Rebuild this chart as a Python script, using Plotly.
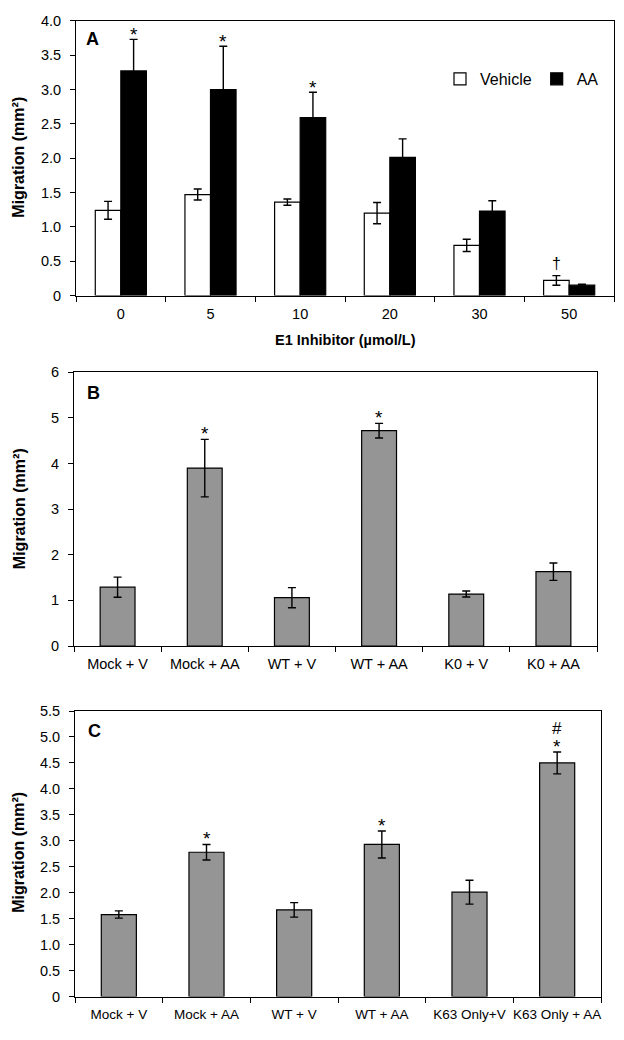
import plotly.graph_objects as go

# ---------------- Data ----------------
# Panel A
a_categories = ["0", "5", "10", "20", "30", "50"]
a_vehicle = [1.24, 1.47, 1.36, 1.20, 0.73, 0.22]
a_vehicle_err = [0.13, 0.08, 0.045, 0.155, 0.09, 0.07]
a_aa = [3.27, 3.00, 2.59, 2.01, 1.23, 0.15]
a_aa_err = [0.46, 0.63, 0.37, 0.27, 0.15, 0.015]
a_vehicle_marks = ["", "", "", "", "", "†"]
a_aa_marks = ["*", "*", "*", "", "", ""]
a_yticks = [0, 0.5, 1.0, 1.5, 2.0, 2.5, 3.0, 3.5, 4.0]
a_yticklabels = ["0", "0.5", "1.0", "1.5", "2.0", "2.5", "3.0", "3.5", "4.0"]

# Panel B
b_categories = ["Mock + V", "Mock + AA", "WT + V", "WT + AA", "K0 + V", "K0 + AA"]
b_values = [1.29, 3.90, 1.06, 4.72, 1.14, 1.63]
b_err = [0.22, 0.63, 0.22, 0.16, 0.065, 0.19]
b_marks = ["", "*", "", "*", "", ""]
b_yticks = [0, 1, 2, 3, 4, 5, 6]
b_yticklabels = ["0", "1", "2", "3", "4", "5", "6"]

# Panel C
c_categories = ["Mock + V", "Mock + AA", "WT + V", "WT + AA", "K63 Only+V", "K63 Only + AA"]
c_values = [1.58, 2.78, 1.67, 2.93, 2.01, 4.50]
c_err = [0.07, 0.15, 0.14, 0.26, 0.23, 0.21]
c_marks = ["", "*", "", "*", "", "*"]
c_marks_hash = ["", "", "", "", "", "#"]
c_yticks = [0, 0.5, 1.0, 1.5, 2.0, 2.5, 3.0, 3.5, 4.0, 4.5, 5.0, 5.5]
c_yticklabels = ["0", "0.5", "1.0", "1.5", "2.0", "2.5", "3.0", "3.5", "4.0", "4.5", "5.0", "5.5"]

# ---------------- Styling ----------------
FONT = "Liberation Sans, Arial, sans-serif"
W, H = 624, 1040
GRAY = "#959595"
TICKSIZE = 14.5

def px_x(p):
    return p / W

def px_y(p):
    return (H - p) / H

fig = go.Figure()

err_style = dict(type="data", color="black", thickness=1.4, width=4, visible=True)

fig.add_trace(go.Bar(
    x=a_categories, y=a_vehicle, name="Vehicle",
    marker=dict(color="white", line=dict(color="black", width=1.2)),
    error_y=dict(array=a_vehicle_err, **err_style),
    xaxis="x", yaxis="y", offsetgroup="veh", showlegend=True,
))
fig.add_trace(go.Bar(
    x=a_categories, y=a_aa, name="AA",
    marker=dict(color="black", line=dict(color="black", width=1.2)),
    error_y=dict(array=a_aa_err, **err_style),
    xaxis="x", yaxis="y", offsetgroup="aa", showlegend=True,
))
fig.add_trace(go.Bar(
    x=b_categories, y=b_values, width=0.4,
    marker=dict(color=GRAY, line=dict(color="black", width=1.2)),
    error_y=dict(array=b_err, **err_style),
    xaxis="x2", yaxis="y2", showlegend=False,
))
fig.add_trace(go.Bar(
    x=c_categories, y=c_values, width=0.4,
    marker=dict(color=GRAY, line=dict(color="black", width=1.2)),
    error_y=dict(array=c_err, **err_style),
    xaxis="x3", yaxis="y3", showlegend=False,
))

BARGAP = 0.43
half = (1 - BARGAP) / 4.0

annotations = []

def mark(xref, yref, x, y, text, yshift, size):
    annotations.append(dict(
        x=x, y=y, xref=xref, yref=yref, text=text, showarrow=False,
        xanchor="center", yanchor="bottom", yshift=yshift,
        font=dict(family=FONT, size=size, color="black")))

for i, (v, e, m) in enumerate(zip(a_vehicle, a_vehicle_err, a_vehicle_marks)):
    if m:
        mark("x", "y", i - half, v + e, m, 2, 16)
for i, (v, e, m) in enumerate(zip(a_aa, a_aa_err, a_aa_marks)):
    if m:
        mark("x", "y", i + half, v + e, m, -8, 19)
for i, (v, e, m) in enumerate(zip(b_values, b_err, b_marks)):
    if m:
        mark("x2", "y2", i, v + e, m, -7, 19)
for i, (v, e, m) in enumerate(zip(c_values, c_err, c_marks)):
    if m:
        mark("x3", "y3", i, v + e, m, -7, 19)
for i, (v, e, m) in enumerate(zip(c_values, c_err, c_marks_hash)):
    if m:
        mark("x3", "y3", i, v + e, m, 12, 17)

for letter, xp, yp in [("A", 92, 31), ("B", 93, 391), ("C", 94, 734)]:
    annotations.append(dict(
        x=px_x(xp), y=px_y(yp), xref="paper", yref="paper", text="<b>%s</b>" % letter,
        showarrow=False, xanchor="center", yanchor="middle",
        font=dict(family=FONT, size=18, color="black")))

for yp in [152, 509, 858]:
    annotations.append(dict(
        x=px_x(19), y=px_y(yp), xref="paper", yref="paper",
        text="<b>Migration (mm²)</b>", textangle=-90, showarrow=False,
        xanchor="center", yanchor="middle",
        font=dict(family=FONT, size=16, color="black")))

annotations.append(dict(
    x=px_x(345), y=px_y(337), xref="paper", yref="paper",
    text="<b>E1 Inhibitor (µmol/L)</b>", showarrow=False,
    xanchor="center", yanchor="middle",
    font=dict(family=FONT, size=14.5, color="black")))

axis_common = dict(showline=True, linecolor="black", linewidth=1, mirror=True,
                   showgrid=False, zeroline=False, ticks="outside", tickcolor="black",
                   tickfont=dict(family=FONT, size=TICKSIZE, color="black"))

xcat = dict(axis_common, type="category", tickson="boundaries", ticklen=5,
            ticklabelstandoff=5, tickangle=0)
ycom = dict(axis_common, ticklen=5, ticklabelstandoff=6)

fig.update_layout(
    width=W, height=H,
    margin=dict(l=0, r=0, t=0, b=0),
    paper_bgcolor="white", plot_bgcolor="white",
    barmode="group", bargap=BARGAP, bargroupgap=0,
    font=dict(family=FONT, size=14, color="black"),
    showlegend=True,
    legend=dict(orientation="h", x=px_x(604), y=px_y(72), xanchor="right", yanchor="middle",
                font=dict(family=FONT, size=16, color="black"),
                itemwidth=30, bgcolor="rgba(0,0,0,0)", traceorder="normal"),
    xaxis=dict(xcat, domain=[px_x(76), px_x(614)], anchor="y"),
    yaxis=dict(ycom, domain=[px_y(292), px_y(13)], anchor="x", range=[0, 4],
               tickvals=a_yticks, ticktext=a_yticklabels),
    xaxis2=dict(xcat, domain=[px_x(74), px_x(597)], anchor="y2"),
    yaxis2=dict(ycom, domain=[px_y(648), px_y(370)], anchor="x2", range=[0, 6],
                tickvals=b_yticks, ticktext=b_yticklabels),
    xaxis3=dict(xcat, domain=[px_x(75), px_x(601)], anchor="y3",
                tickfont=dict(family=FONT, size=13.5, color="black")),
    yaxis3=dict(ycom, domain=[px_y(1004), px_y(714)], anchor="x3", range=[0, 5.5],
                tickvals=c_yticks, ticktext=c_yticklabels),
    annotations=annotations,
)

fig.write_html("out.html", config={"displayModeBar": False},
               post_script="document.body.style.margin='0px';")
